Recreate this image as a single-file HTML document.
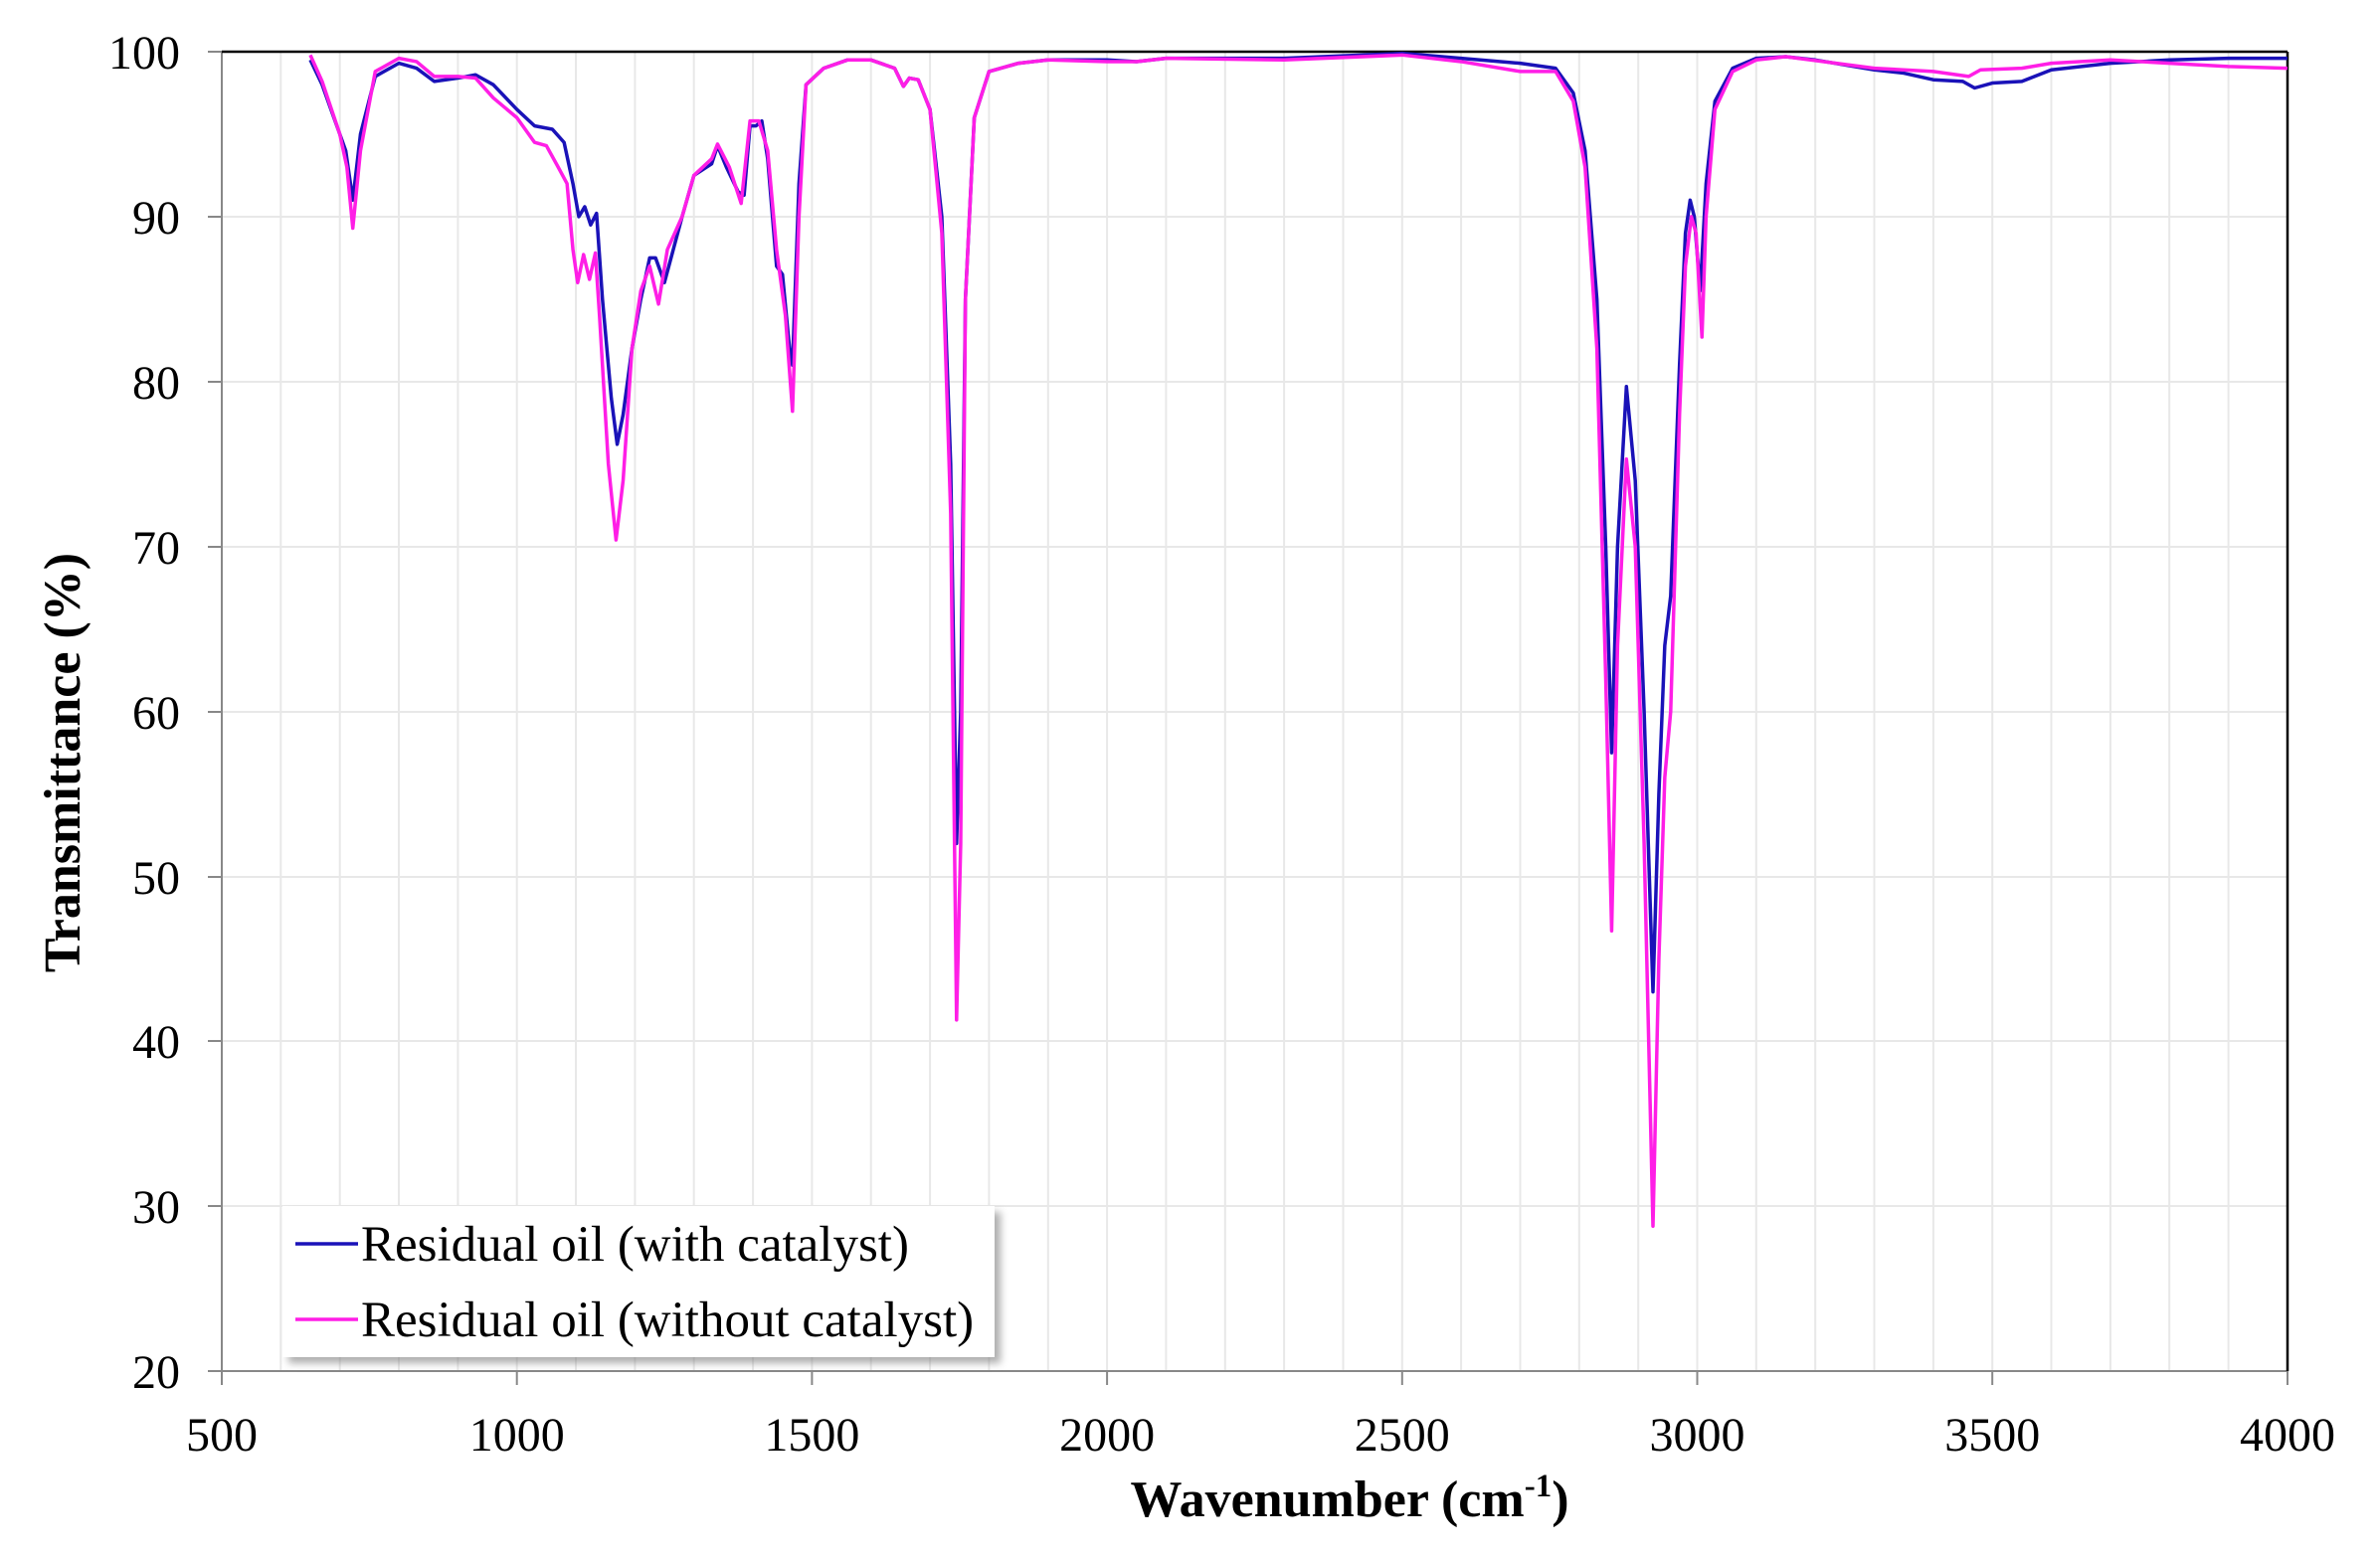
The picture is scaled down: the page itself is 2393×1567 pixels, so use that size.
<!DOCTYPE html>
<html><head><meta charset="utf-8"><style>
html,body{margin:0;padding:0;background:#fff}
svg{display:block}
text{font-family:"Liberation Serif",serif;fill:#000}
</style></head><body>
<svg width="2393" height="1567" viewBox="0 0 2393 1567" xmlns="http://www.w3.org/2000/svg">
<defs><filter id="sh" x="-5%" y="-10%" width="115%" height="130%"><feGaussianBlur stdDeviation="4"/></filter></defs>
<rect width="2393" height="1567" fill="#fff"/>
<g stroke="#e8e8e8" stroke-width="2">
<line x1="282.3" y1="52" x2="282.3" y2="1379"/><line x1="341.7" y1="52" x2="341.7" y2="1379"/><line x1="401" y1="52" x2="401" y2="1379"/><line x1="460.4" y1="52" x2="460.4" y2="1379"/><line x1="519.7" y1="52" x2="519.7" y2="1379"/><line x1="579" y1="52" x2="579" y2="1379"/><line x1="638.4" y1="52" x2="638.4" y2="1379"/><line x1="697.7" y1="52" x2="697.7" y2="1379"/><line x1="757.1" y1="52" x2="757.1" y2="1379"/><line x1="816.4" y1="52" x2="816.4" y2="1379"/><line x1="875.7" y1="52" x2="875.7" y2="1379"/><line x1="935.1" y1="52" x2="935.1" y2="1379"/><line x1="994.4" y1="52" x2="994.4" y2="1379"/><line x1="1053.8" y1="52" x2="1053.8" y2="1379"/><line x1="1113.1" y1="52" x2="1113.1" y2="1379"/><line x1="1172.4" y1="52" x2="1172.4" y2="1379"/><line x1="1231.8" y1="52" x2="1231.8" y2="1379"/><line x1="1291.1" y1="52" x2="1291.1" y2="1379"/><line x1="1350.5" y1="52" x2="1350.5" y2="1379"/><line x1="1409.8" y1="52" x2="1409.8" y2="1379"/><line x1="1469.1" y1="52" x2="1469.1" y2="1379"/><line x1="1528.5" y1="52" x2="1528.5" y2="1379"/><line x1="1587.8" y1="52" x2="1587.8" y2="1379"/><line x1="1647.2" y1="52" x2="1647.2" y2="1379"/><line x1="1706.5" y1="52" x2="1706.5" y2="1379"/><line x1="1765.8" y1="52" x2="1765.8" y2="1379"/><line x1="1825.2" y1="52" x2="1825.2" y2="1379"/><line x1="1884.5" y1="52" x2="1884.5" y2="1379"/><line x1="1943.9" y1="52" x2="1943.9" y2="1379"/><line x1="2003.2" y1="52" x2="2003.2" y2="1379"/><line x1="2062.5" y1="52" x2="2062.5" y2="1379"/><line x1="2121.9" y1="52" x2="2121.9" y2="1379"/><line x1="2181.2" y1="52" x2="2181.2" y2="1379"/><line x1="2240.6" y1="52" x2="2240.6" y2="1379"/>
<line x1="223" y1="218" x2="2300" y2="218"/><line x1="223" y1="384" x2="2300" y2="384"/><line x1="223" y1="550" x2="2300" y2="550"/><line x1="223" y1="716" x2="2300" y2="716"/><line x1="223" y1="882" x2="2300" y2="882"/><line x1="223" y1="1047" x2="2300" y2="1047"/><line x1="223" y1="1213" x2="2300" y2="1213"/>
</g>
<g stroke="#888" stroke-width="2">
<line x1="223" y1="52" x2="223" y2="1379"/><line x1="223" y1="1379" x2="2300" y2="1379"/>
<line x1="209" y1="52" x2="223" y2="52"/><line x1="209" y1="218" x2="223" y2="218"/><line x1="209" y1="384" x2="223" y2="384"/><line x1="209" y1="550" x2="223" y2="550"/><line x1="209" y1="716" x2="223" y2="716"/><line x1="209" y1="882" x2="223" y2="882"/><line x1="209" y1="1047" x2="223" y2="1047"/><line x1="209" y1="1213" x2="223" y2="1213"/><line x1="209" y1="1379" x2="223" y2="1379"/>
<line x1="223" y1="1379" x2="223" y2="1393"/><line x1="519.7" y1="1379" x2="519.7" y2="1393"/><line x1="816.4" y1="1379" x2="816.4" y2="1393"/><line x1="1113.1" y1="1379" x2="1113.1" y2="1393"/><line x1="1409.8" y1="1379" x2="1409.8" y2="1393"/><line x1="1706.5" y1="1379" x2="1706.5" y2="1393"/><line x1="2003.2" y1="1379" x2="2003.2" y2="1393"/><line x1="2300" y1="1379" x2="2300" y2="1393"/>
</g>
<g stroke="#000" stroke-width="2.5"><line x1="223" y1="52" x2="2300" y2="52"/><line x1="2300" y1="52" x2="2300" y2="1379"/></g>
<g font-size="48" text-anchor="end">
<text x="181" y="69">100</text><text x="181" y="235">90</text><text x="181" y="401">80</text><text x="181" y="567">70</text><text x="181" y="733">60</text><text x="181" y="899">50</text><text x="181" y="1064">40</text><text x="181" y="1230">30</text><text x="181" y="1396">20</text>
</g>
<g font-size="48" text-anchor="middle">
<text x="223" y="1459">500</text><text x="519.7" y="1459">1000</text><text x="816.4" y="1459">1500</text><text x="1113.1" y="1459">2000</text><text x="1409.8" y="1459">2500</text><text x="1706.5" y="1459">3000</text><text x="2003.2" y="1459">3500</text><text x="2300" y="1459">4000</text>
</g>
<text x="1357" y="1525" font-size="52" font-weight="bold" text-anchor="middle">Wavenumber (cm<tspan font-size="33" dy="-20">-1</tspan><tspan dy="20">)</tspan></text>
<text transform="translate(80,767) rotate(-90)" font-size="52" font-weight="bold" text-anchor="middle">Transmittance (%)</text>
<g transform="matrix(0.5934 0 0 -16.59 -73.7 1711)" fill="none" stroke-linejoin="round">
<polyline vector-effect="non-scaling-stroke" stroke="#1a12b8" stroke-width="3.5" points="650,99.5 670,98 690,96 710,94 722,91 735,95 760,98.5 800,99.3 830,99 860,98.2 900,98.4 930,98.6 960,98 1000,96.5 1030,95.5 1060,95.3 1080,94.5 1095,92 1105,90 1115,90.6 1125,89.5 1135,90.2 1145,85 1160,79 1170,76.2 1180,78 1195,82 1210,85 1225,87.5 1235,87.5 1250,86 1265,88 1280,90 1300,92.5 1330,93.2 1340,94.3 1355,93 1375,91.5 1385,91.3 1395,95.5 1405,95.5 1415,95.8 1425,93.5 1440,87 1450,86.5 1462,82 1467,81 1478,92 1490,98 1520,99 1560,99.5 1600,99.5 1640,99 1655,97.9 1665,98.4 1680,98.3 1700,96.5 1720,90 1735,75 1745,52 1752,60 1760,85 1775,96 1800,98.8 1850,99.3 1900,99.5 2000,99.5 2050,99.4 2100,99.6 2300,99.6 2500,99.9 2600,99.6 2700,99.3 2760,99 2790,97.5 2810,94 2830,85 2845,70 2855,57.5 2865,70 2880,79.7 2895,74 2910,60 2925,43 2935,55 2945,64 2955,67 2970,81 2980,89 2988,91 2995,90 3005,85.5 3015,92 3030,97 3060,99 3100,99.6 3150,99.7 3200,99.5 3300,98.9 3350,98.7 3400,98.3 3450,98.2 3470,97.8 3500,98.1 3550,98.2 3600,98.9 3700,99.3 3800,99.5 3900,99.6 4000,99.6"/>
<polyline vector-effect="non-scaling-stroke" stroke="#ff1ee6" stroke-width="3.5" points="650,99.8 670,98.2 700,95 712,93 722,89.3 735,94 760,98.8 800,99.6 830,99.4 860,98.5 900,98.5 930,98.4 960,97.2 1000,96 1030,94.5 1050,94.3 1070,93 1085,92 1095,88 1103,86 1113,87.7 1123,86.2 1133,87.8 1140,84 1155,75 1168,70.4 1180,74 1195,82 1210,85.5 1225,87 1240,84.7 1255,88 1280,90 1300,92.5 1330,93.5 1340,94.4 1360,93 1380,90.8 1395,95.8 1410,95.8 1425,94 1440,88 1455,84 1467,78.2 1478,90 1490,98 1520,99 1560,99.5 1600,99.5 1640,99 1655,97.9 1665,98.4 1680,98.3 1700,96.5 1720,89 1735,72 1745,41.3 1752,52 1760,85 1775,96 1800,98.8 1850,99.3 1900,99.5 2000,99.4 2050,99.4 2100,99.6 2300,99.5 2500,99.8 2600,99.4 2700,98.8 2760,98.8 2790,97 2810,93 2830,82 2845,62 2855,46.7 2865,64 2880,75.3 2895,70 2910,52 2925,28.8 2935,45 2945,56 2955,60 2970,78 2980,87 2990,90 2998,89 3008,82.7 3015,90 3030,96.5 3060,98.8 3100,99.5 3150,99.7 3300,99 3400,98.8 3460,98.5 3480,98.9 3550,99 3600,99.3 3700,99.5 3800,99.3 3900,99.1 4000,99"/>
</g>
<rect x="290" y="1219" width="716" height="152" fill="#777" opacity="0.6" filter="url(#sh)"/>
<rect x="284" y="1213" width="716" height="152" fill="#fff"/>
<line x1="297" y1="1251" x2="360" y2="1251" stroke="#1a12b8" stroke-width="3.5"/>
<line x1="297" y1="1327" x2="360" y2="1327" stroke="#ff1ee6" stroke-width="3.5"/>
<text x="363" y="1268" font-size="51">Residual oil (with catalyst)</text>
<text x="363" y="1344" font-size="51">Residual oil (without catalyst)</text>
</svg>
</body></html>
